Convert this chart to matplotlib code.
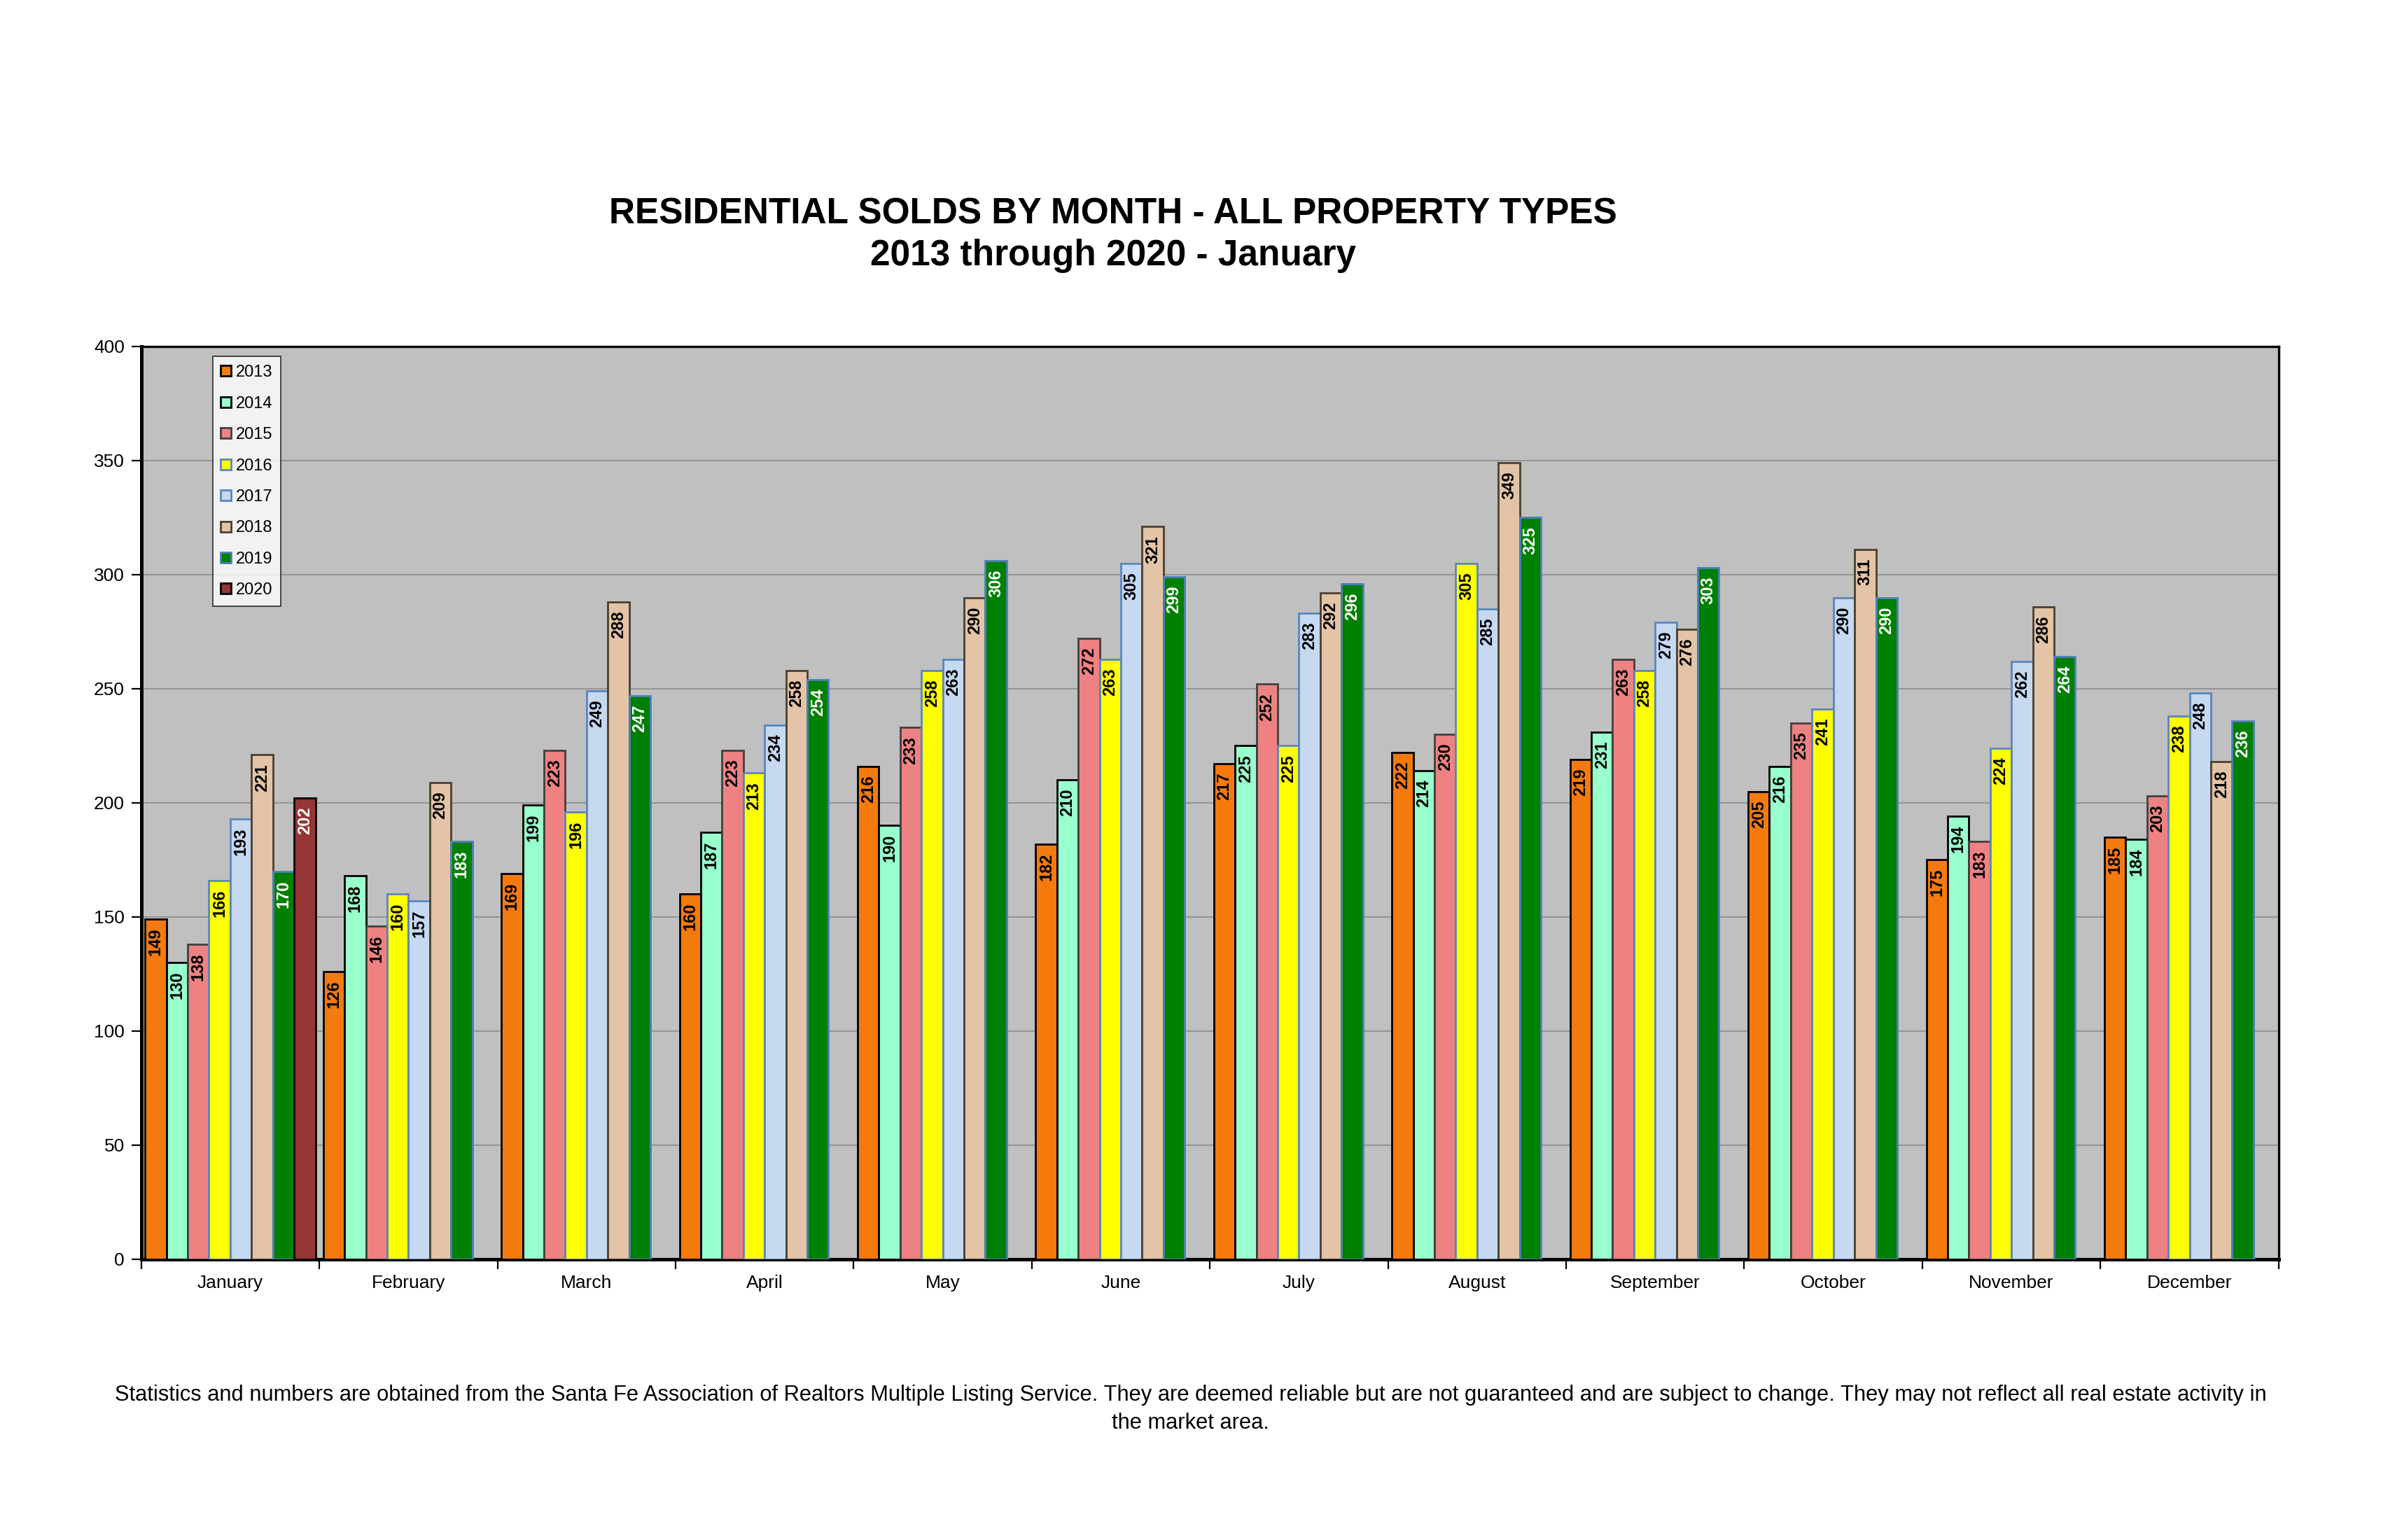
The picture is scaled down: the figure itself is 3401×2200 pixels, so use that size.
import matplotlib.pyplot as plt
import numpy as np

months = ['January', 'February', 'March', 'April', 'May', 'June', 'July',
          'August', 'September', 'October', 'November', 'December']
years = ['2013', '2014', '2015', '2016', '2017', '2018', '2019', '2020']

sold_2013 = [149, 126, 169, 160, 216, 182, 217, 222, 219, 205, 175, 185]
sold_2014 = [130, 168, 199, 187, 190, 210, 225, 214, 231, 216, 194, 184]
sold_2015 = [138, 146, 223, 223, 233, 272, 252, 230, 263, 235, 183, 203]
sold_2016 = [166, 160, 196, 213, 258, 263, 225, 305, 258, 241, 224, 238]
sold_2017 = [193, 157, 249, 234, 263, 305, 283, 285, 279, 290, 262, 248]
sold_2018 = [221, 209, 288, 258, 290, 321, 292, 349, 276, 311, 286, 218]
sold_2019 = [170, 183, 247, 254, 306, 299, 296, 325, 303, 290, 264, 236]
sold_2020 = [202]

series = [sold_2013, sold_2014, sold_2015, sold_2016,
          sold_2017, sold_2018, sold_2019, sold_2020]

fills = ['#f47a0e', '#99ffcc', '#ee8282', '#ffff00',
         '#c6d9f1', '#e3c4a6', '#008000', '#963634']
edges = ['#000000', '#000000', '#404040', '#5b86bd',
         '#5b86bd', '#4a3f2e', '#4f7fb8', '#000000']
text_colors = ['black'] * 6 + ['white', 'white']

plt.rcParams['font.family'] = ['Liberation Sans', 'DejaVu Sans']

fig = plt.figure(figsize=(17.005, 11), dpi=200)
ax = fig.add_axes([0.0593, 0.1824, 0.8977, 0.5926])
ax.set_facecolor('#c0c0c0')

# 8 slots per month, 2020 only has January so far
w = 0.1195
x = np.arange(len(months))
for j, vals in enumerate(series):
    xs = x[:len(vals)] - 4 * w + (j + 0.5) * w
    bars = ax.bar(xs, vals, width=w, color=fills[j], edgecolor=edges[j],
                  linewidth=1.0, label=years[j], zorder=3)
    for b, v in zip(bars, vals):
        ax.annotate(str(v), (b.get_x() + b.get_width() / 2, v),
                    xytext=(0, -4.5), textcoords='offset points',
                    rotation=90, ha='center', va='top',
                    fontsize=8.5, fontweight='bold', color=text_colors[j],
                    family=['Liberation Sans Narrow', 'Liberation Sans'],
                    zorder=4)

ax.set_xlim(-0.5, 11.5)
ax.set_ylim(0, 400)
ax.set_yticks(range(0, 401, 50))
ax.yaxis.grid(True, color='#8c8c8c', linewidth=0.6, zorder=0)
ax.set_xticks(x)
ax.set_xticklabels(months, fontsize=9.5)
ax.set_xticks(np.arange(-0.5, 12, 1), minor=True)
ax.tick_params(axis='x', which='major', length=0, pad=8)
ax.tick_params(axis='x', which='minor', length=5, width=0.8, direction='out')
ax.tick_params(axis='y', labelsize=9.5, length=5, width=0.8, direction='out')
for side in ['left', 'bottom']:
    ax.spines[side].set_linewidth(1.8)
for side in ['top', 'right']:
    ax.spines[side].set_linewidth(1.2)

leg = ax.legend(loc='upper left', bbox_to_anchor=(0.0295, 0.998), fontsize=8.5,
                frameon=True, fancybox=False, edgecolor='black',
                handlelength=0.6, handleheight=0.6, handletextpad=0.3,
                labelspacing=0.95, borderpad=0.5)
leg.get_frame().set_linewidth(0.6)

fig.text(0.4675, 0.861, 'RESIDENTIAL SOLDS BY MONTH - ALL PROPERTY TYPES',
         ha='center', va='center', fontsize=18.5, fontweight='bold')
fig.text(0.4675, 0.834, '2013 through 2020 - January',
         ha='center', va='center', fontsize=18.5, fontweight='bold')
fig.text(0.5, 0.085,
         'Statistics and numbers are obtained from the Santa Fe Association of Realtors '
         'Multiple Listing Service. They are deemed reliable but are not guaranteed and '
         'are subject to change. They may not reflect all real estate activity in\nthe market area.',
         ha='center', va='center', fontsize=11.1, linespacing=1.45)

fig.savefig('out.png', dpi=200)
